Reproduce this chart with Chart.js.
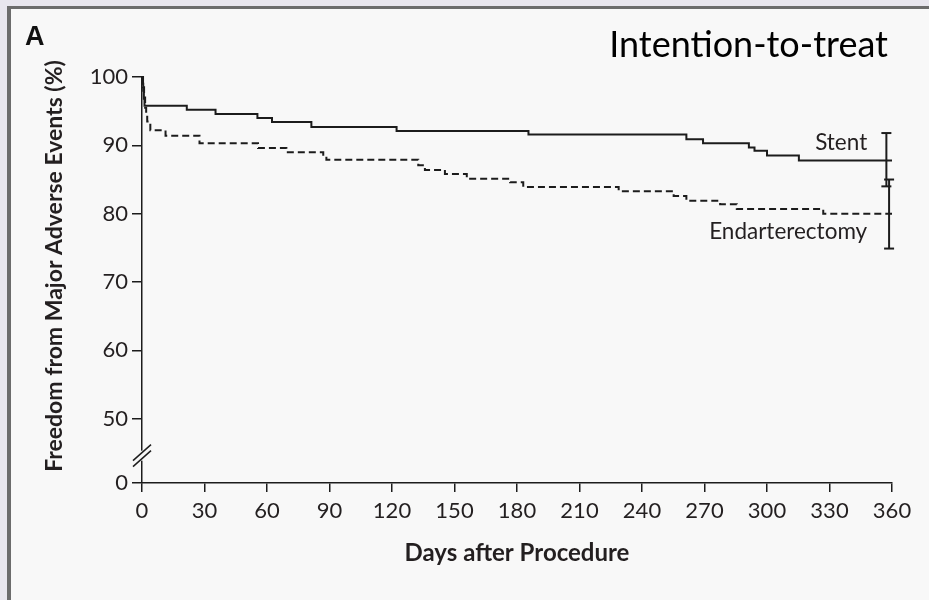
<!DOCTYPE html>
<html><head><meta charset="utf-8">
<script src="https://cdn.jsdelivr.net/npm/chart.js@4.4.1/dist/chart.umd.min.js"></script>
<style>html,body{margin:0;padding:0;background:#f8f8f8;overflow:hidden}canvas{display:block}</style>
</head><body>
<canvas id="c" width="929" height="600"></canvas>
<script>
// ---- data (Kaplan-Meier steps) ----
const stentDays = [0, 0.3, 0.6, 0.9, 1.2, 21.5, 35.3, 55.4, 62.4, 81.3, 122.2, 185.5, 261.3, 269.3, 291.3, 294, 300, 315.3, 360];
const stentSurv = [100, 99.0, 98.0, 96.8, 95.8, 95.2, 94.6, 94.0, 93.4, 92.7, 92.1, 91.6, 90.9, 90.3, 89.7, 89.2, 88.5, 87.8, 87.8];
const endDays = [0, 0.5, 1.0, 1.5, 2.0, 2.5, 4.0, 11.3, 27.6, 55.7, 69.3, 87.0, 88.5, 132.6, 135.8, 145.4, 155.9, 176.7, 183, 228.8, 255.2, 261.3, 277.5, 285.5, 327, 360];
const endSurv = [100, 98.5, 97.0, 95.5, 94.5, 93.5, 92.2, 91.4, 90.3, 89.6, 89.0, 88.4, 87.9, 87.1, 86.4, 85.8, 85.1, 84.6, 83.9, 83.3, 82.6, 81.9, 81.4, 80.7, 80.0, 80.0];
const ciDays = [357.3, 358.6];
const stentCI = [84.0, 91.8];
const endCI = [74.9, 85.0];
const seriesNames = ['Stent', 'Endarterectomy'];
const xTicks = [0, 30, 60, 90, 120, 150, 180, 210, 240, 270, 300, 330, 360];
const yBreakBase = 40.6;             // where the "0" tick sits below the axis break
const yTickValues = [yBreakBase, 50, 60, 70, 80, 90, 100];
const yTickLabels = ['0', '50', '60', '70', '80', '90', '100'];
const xTitle = 'Days after Procedure';
const yTitle = 'Freedom from Major Adverse Events (%)';
const panelLabel = 'A';
const headerText = 'Intention-to-treat';

const INK = '#231f20';
const LINE = '#1c1c1c';
const BG = '#f8f8f8';

const decor = {
  id: 'decor',
  beforeDraw(chart) {
    const ctx = chart.ctx;
    ctx.save();
    ctx.fillStyle = '#e8e6ee';
    ctx.fillRect(0, 0, chart.width, chart.height);
    ctx.fillStyle = '#6c6c6c';
    ctx.fillRect(7, 6, chart.width - 7, 3);
    ctx.fillRect(7, 6, 4, chart.height - 6);
    ctx.fillStyle = BG;
    ctx.fillRect(11, 9, chart.width - 11, chart.height - 9);
    ctx.restore();
  },
  afterDraw(chart) {
    const ctx = chart.ctx;
    const xs = chart.scales.x, ys = chart.scales.y;
    ctx.save();
    // panel letter
    ctx.fillStyle = '#111';
    ctx.font = 'bold 27px "Liberation Sans", Arial, sans-serif';
    ctx.textAlign = 'left';
    ctx.textBaseline = 'alphabetic';
    ctx.fillText(panelLabel, 25, 45);
    // header
    ctx.font = '36px Lato, sans-serif';
    ctx.textAlign = 'right';
    ctx.fillStyle = '#000';
    ctx.fillText(headerText, 888, 57);
    // y title
    ctx.save();
    ctx.translate(55, 266);
    ctx.rotate(-Math.PI / 2);
    ctx.textAlign = 'center';
    ctx.textBaseline = 'middle';
    ctx.fillStyle = INK;
    ctx.font = 'bold 23px Lato, sans-serif';
    ctx.fillText(yTitle, 0, 0);
    ctx.restore();
    // axis break
    const ax = chart.chartArea.left;
    const yb = ys.getPixelForValue(44.6);
    ctx.fillStyle = BG;
    ctx.fillRect(ax - 3, yb - 5, 6, 10);
    ctx.strokeStyle = LINE;
    ctx.lineWidth = 1.5;
    for (const off of [-3, 3]) {
      ctx.beginPath();
      ctx.moveTo(ax - 9, yb + off + 8);
      ctx.lineTo(ax + 9, yb + off - 8);
      ctx.stroke();
    }
    // series labels
    ctx.fillStyle = INK;
    ctx.font = '22.5px Lato, sans-serif';
    ctx.textAlign = 'right';
    ctx.textBaseline = 'alphabetic';
    ctx.fillText(seriesNames[0], xs.getPixelForValue(348.1), ys.getPixelForValue(89.3));
    ctx.fillText(seriesNames[1], xs.getPixelForValue(348.1), ys.getPixelForValue(76.3));
    ctx.restore();
  }
};

function pts(xa, ya) { return xa.map((d, i) => ({ x: d, y: ya[i] })); }

function build() {
  const tickFont = { family: 'Lato', size: 22 };
  new Chart(document.getElementById('c'), {
    type: 'line',
    data: {
      datasets: [
        { label: seriesNames[0], data: pts(stentDays, stentSurv), stepped: true, borderColor: LINE, borderWidth: 2, pointRadius: 0, fill: false, clip: 6 },
        { label: seriesNames[1], data: pts(endDays, endSurv), stepped: true, borderColor: LINE, borderWidth: 2, borderDash: [7, 4], pointRadius: 0, fill: false, clip: 6 },
        { label: 'CI stent', data: pts([ciDays[0], ciDays[0]], stentCI), borderColor: LINE, borderWidth: 2, pointStyle: 'line', pointRadius: 5, pointBorderWidth: 2, pointBorderColor: LINE, fill: false, clip: 10 },
        { label: 'CI end', data: pts([ciDays[1], ciDays[1]], endCI), borderColor: LINE, borderWidth: 2, pointStyle: 'line', pointRadius: 5, pointBorderWidth: 2, pointBorderColor: LINE, fill: false, clip: 10 }
      ]
    },
    options: {
      responsive: false,
      animation: false,
      devicePixelRatio: 1,
      events: [],
      layout: { padding: { top: 77, right: 37, left: 0, bottom: 0 } },
      plugins: { legend: { display: false }, tooltip: { enabled: false }, title: { display: false } },
      scales: {
        x: {
          type: 'linear', min: 0, max: 360,
          afterBuildTicks: s => { s.ticks = xTicks.map(v => ({ value: v })); },
          afterFit: s => { s.height = 117; },
          ticks: { font: tickFont, color: INK, padding: 6, maxRotation: 0, autoSkip: false },
          grid: { display: true, drawOnChartArea: false, drawTicks: true, tickLength: 9, color: LINE, lineWidth: 1.5 },
          border: { display: true, color: LINE, width: 1.5 },
          title: { display: true, text: xTitle, color: INK, font: { family: 'Lato', size: 24, weight: 'bold' }, padding: { top: 0, bottom: 32 } }
        },
        y: {
          type: 'linear', min: yBreakBase, max: 100,
          afterBuildTicks: s => { s.ticks = yTickValues.map(v => ({ value: v })); },
          afterFit: s => { s.width = 142; },
          ticks: { font: tickFont, color: INK, padding: 4, callback: (v, i) => yTickLabels[i] },
          grid: { display: true, drawOnChartArea: false, drawTicks: true, tickLength: 10, color: LINE, lineWidth: 1.5 },
          border: { display: true, color: LINE, width: 1.5 }
        }
      }
    },
    plugins: [decor]
  });
}
const fl = document.fonts ? Promise.all(['22px Lato', 'bold 23px Lato', '36px Lato', 'bold 27px "Liberation Sans"'].map(f => document.fonts.load(f))) : Promise.resolve();
fl.then(build, build);
</script>
</body></html>
